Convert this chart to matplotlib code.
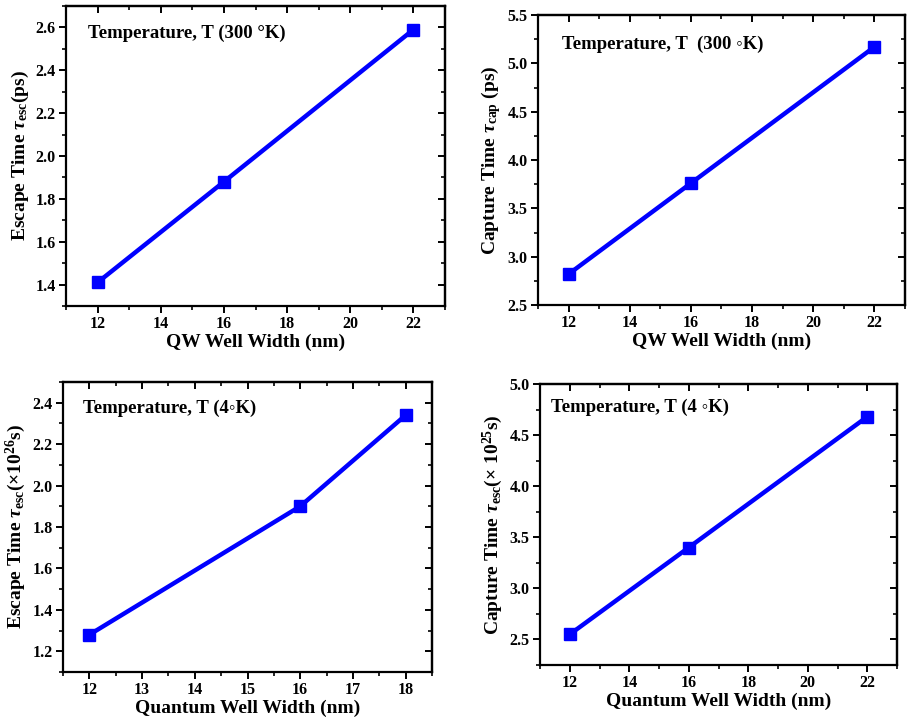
import numpy as np
import matplotlib
matplotlib.use('Agg')
import matplotlib.pyplot as plt
from matplotlib.ticker import MultipleLocator, AutoMinorLocator

plt.rcParams['font.family'] = ['Liberation Serif', 'DejaVu Sans']
plt.rcParams['font.weight'] = 'bold'
plt.rcParams['mathtext.fontset'] = 'custom'
plt.rcParams['mathtext.rm'] = 'Liberation Serif:bold'
plt.rcParams['mathtext.it'] = 'Liberation Serif:italic:bold'
plt.rcParams['mathtext.bf'] = 'Liberation Serif:bold'

# data
width_qw = [12, 16, 22]
esc_300K = [1.41, 1.88, 2.59]
cap_300K = [2.82, 3.76, 5.17]

width_4K_esc = [12, 16, 18]
esc_4K = [1.28, 1.90, 2.34]
width_4K_cap = [12, 16, 22]
cap_4K = [2.55, 3.40, 4.68]

panels = [
    dict(x=width_qw, y=esc_300K, rect=[0.0728, 0.5744, 0.4178, 0.4172],
         xlim=(11, 23), ylim=(1.3, 2.7), xmaj=2, ymaj=0.2,
         xlabel='QW Well Width (nm)',
         ylabel='Escape Time $\\tau_{\\mathrm{esc}}$(ps)',
         note='Temperature, T (300 \u00b0K)', note_xy=(0.058, 0.91)),
    dict(x=width_qw, y=cap_300K, rect=[0.5932, 0.5758, 0.4045, 0.4033],
         xlim=(11, 23), ylim=(2.5, 5.5), xmaj=2, ymaj=0.5,
         xlabel='QW Well Width (nm)',
         ylabel='Capture Time $\\tau_{\\mathrm{cap}}$ (ps)',
         note='Temperature, T  (300 \u25e6K)', note_xy=(0.065, 0.90)),
    dict(x=width_4K_esc, y=esc_4K, rect=[0.0695, 0.0654, 0.4068, 0.4033],
         xlim=(11.5, 18.5), ylim=(1.1, 2.5), xmaj=1, ymaj=0.2,
         xlabel='Quantum Well Width (nm)',
         ylabel='Escape Time $\\tau_{\\mathrm{esc}}$($\\times$10$^{26}$s)',
         note='Temperature, T (4\u25e6K)', note_xy=(0.054, 0.91)),
    dict(x=width_4K_cap, y=cap_4K, rect=[0.5954, 0.0751, 0.3936, 0.3908],
         xlim=(11, 23), ylim=(2.25, 5.0), xmaj=2, ymaj=0.5,
         xlabel='Quantum Well Width (nm)',
         ylabel='Capture Time $\\tau_{\\mathrm{esc}}$($\\times$ 10$^{25}$s)',
         note='Temperature, T (4 \u25e6K)', note_xy=(0.031, 0.918)),
]

fig = plt.figure(figsize=(9.07, 7.19), dpi=100)

for p in panels:
    ax = fig.add_axes(p['rect'])
    ax.plot(p['x'], p['y'], color='#0000ff', linewidth=3.2,
            marker='s', markersize=9, markerfacecolor='#0000ff',
            markeredgecolor='#0000ff')
    ax.set_xlim(*p['xlim'])
    ax.set_ylim(*p['ylim'])
    ax.xaxis.set_major_locator(MultipleLocator(p['xmaj']))
    ax.yaxis.set_major_locator(MultipleLocator(p['ymaj']))
    ax.xaxis.set_minor_locator(AutoMinorLocator(2))
    ax.yaxis.set_minor_locator(AutoMinorLocator(2))
    for s in ax.spines.values():
        s.set_linewidth(1.6)
    ax.tick_params(axis='both', which='major', direction='out', length=5,
                   width=1.4, labelsize=11.5, pad=2.5)
    ax.tick_params(axis='both', which='minor', direction='out', length=3,
                   width=1.2)
    # mirrored ticks pointing inwards on top/right
    sec_x = ax.secondary_xaxis('top')
    sec_x.xaxis.set_major_locator(MultipleLocator(p['xmaj']))
    sec_x.xaxis.set_minor_locator(AutoMinorLocator(2))
    sec_x.tick_params(which='major', direction='in', length=5, width=1.4,
                      labeltop=False)
    sec_x.tick_params(which='minor', direction='in', length=3, width=1.2)
    sec_x.spines['top'].set_linewidth(1.6)
    sec_y = ax.secondary_yaxis('right')
    sec_y.yaxis.set_major_locator(MultipleLocator(p['ymaj']))
    sec_y.yaxis.set_minor_locator(AutoMinorLocator(2))
    sec_y.tick_params(which='major', direction='in', length=5, width=1.4,
                      labelright=False)
    sec_y.tick_params(which='minor', direction='in', length=3, width=1.2)
    sec_y.spines['right'].set_linewidth(1.6)
    for lab in ax.get_xticklabels() + ax.get_yticklabels():
        lab.set_fontweight('bold')
    ax.set_xlabel(p['xlabel'], fontsize=14, fontweight='bold', labelpad=1)
    ax.set_ylabel(p['ylabel'], fontsize=14, fontweight='bold', labelpad=3)
    ax.text(p['note_xy'][0], p['note_xy'][1], p['note'], transform=ax.transAxes,
            fontsize=13.5, fontweight='bold', va='center', ha='left')

fig.savefig('out.png', dpi=100)
